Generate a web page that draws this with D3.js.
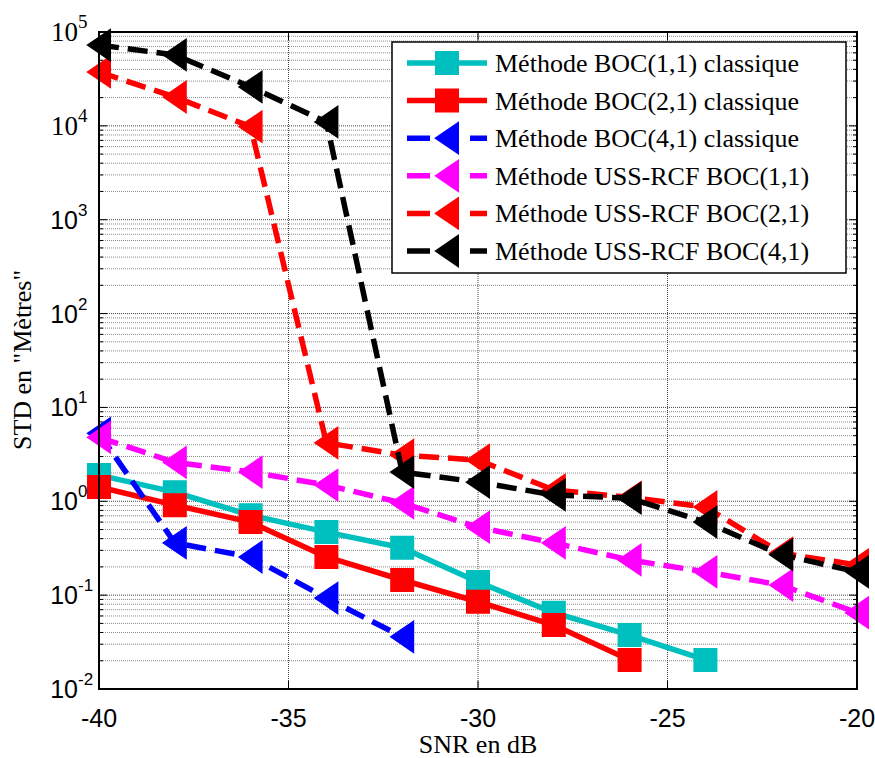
<!DOCTYPE html>
<html><head><meta charset="utf-8">
<script src="https://cdn.jsdelivr.net/npm/d3@7"></script>
<style>body{margin:0;background:#fff}</style>
</head><body>
<svg id="c" width="875" height="758"></svg>
<script>
const snr = [-40,-38,-36,-34,-32,-30,-28,-26,-24,-22,-20];
const boc11 = [1.9,1.25,0.71,0.47,0.32,0.138,0.065,0.0376,0.0204];
const boc21 = [1.42,0.91,0.60,0.255,0.145,0.085,0.048,0.0204];
const boc41 = [5.3,0.36,0.255,0.093,0.036];
const uss11 = [4.8,2.6,2.05,1.49,0.96,0.53,0.36,0.237,0.177,0.128,0.065];
const uss21 = [37500,20300,9800,4.2,3.1,2.75,1.32,1.1,0.87,0.28,0.21];
const uss41 = [72600,57000,26000,11000,2.05,1.6,1.17,1.08,0.60,0.27,0.177];
const xTicks = [-40,-35,-30,-25,-20];
const yExp = [-2,-1,0,1,2,3,4,5];
const names = ["Méthode BOC(1,1) classique","Méthode BOC(2,1) classique","Méthode BOC(4,1) classique",
  "Méthode USS-RCF BOC(1,1)","Méthode USS-RCF BOC(2,1)","Méthode USS-RCF BOC(4,1)"];
const colors = ["#00bfbf","#ff0000","#0000ff","#ff00ff","#ff0000","#000000"];
const markers = ["square","square","tri","tri","tri","tri"];
const dashed = [false,false,true,true,true,true];
const seriesVals = [boc11,boc21,boc41,uss11,uss21,uss41];

const L=99,R=857,T=32,B=689;
const svg=d3.select("#c");
const x=d3.scaleLinear().domain([-40,-20]).range([L,R]);
const y=d3.scaleLog().domain([1e-2,1e5]).range([B,T]);
const SERIF="'Liberation Serif','Times New Roman',serif";
const SANS="'Liberation Sans',Arial,sans-serif";

// grid
const g=svg.append("g");
const minor=[];
for(let e=-2;e<5;e++) for(let k=2;k<=9;k++) minor.push(k*Math.pow(10,e));
g.selectAll(".mn").data(minor).enter().append("line")
 .attr("x1",L).attr("x2",R).attr("y1",d=>y(d)).attr("y2",d=>y(d))
 .attr("stroke","#8a8a8a").attr("stroke-width",1).attr("stroke-dasharray","1,1");
g.selectAll(".mj").data(yExp.slice(1,-1)).enter().append("line")
 .attr("x1",L).attr("x2",R).attr("y1",d=>y(Math.pow(10,d))).attr("y2",d=>y(Math.pow(10,d)))
 .attr("stroke","#444").attr("stroke-width",1).attr("stroke-dasharray","1,1");
g.selectAll(".xg").data(xTicks.slice(1,-1)).enter().append("line")
 .attr("x1",d=>x(d)).attr("x2",d=>x(d)).attr("y1",T).attr("y2",B)
 .attr("stroke","#444").attr("stroke-width",1).attr("stroke-dasharray","1,1");

// ticks (inside, both sides)
const tk=svg.append("g").attr("stroke","#000").attr("stroke-width",1);
xTicks.forEach(v=>{tk.append("line").attr("x1",x(v)).attr("x2",x(v)).attr("y1",B).attr("y2",B-8);
 tk.append("line").attr("x1",x(v)).attr("x2",x(v)).attr("y1",T).attr("y2",T+8);});
yExp.forEach(e=>{const yy=y(Math.pow(10,e));tk.append("line").attr("x1",L).attr("x2",L+8).attr("y1",yy).attr("y2",yy);
 tk.append("line").attr("x1",R).attr("x2",R-8).attr("y1",yy).attr("y2",yy);});
minor.forEach(v=>{const yy=y(v);tk.append("line").attr("x1",L).attr("x2",L+4).attr("y1",yy).attr("y2",yy);
 tk.append("line").attr("x1",R).attr("x2",R-4).attr("y1",yy).attr("y2",yy);});

// series
function markerPath(type){
 if(type==="square") return "M-11,-11H11V11H-11Z";
 return "M-11,0L11,-15L11,15Z";
}
seriesVals.forEach((vals,i)=>{
 const pts=vals.map((v,j)=>[snr[j],v]);
 const line=d3.line().x(d=>x(d[0])).y(d=>y(d[1]));
 svg.append("path").attr("d",line(pts)).attr("fill","none").attr("stroke",colors[i])
  .attr("stroke-width",5.5).attr("stroke-dasharray",dashed[i]?"20,9":null).attr("stroke-linejoin","round");
 svg.selectAll(null).data(pts).enter().append("path")
  .attr("transform",d=>`translate(${x(d[0])},${y(d[1])})`)
  .attr("d",markerPath(markers[i])).attr("fill",colors[i]).attr("stroke",colors[i]).attr("stroke-width",2);
});

// box
svg.append("rect").attr("x",L).attr("y",T).attr("width",R-L).attr("height",B-T)
 .attr("fill","none").attr("stroke","#000").attr("stroke-width",2);

// x tick labels
svg.selectAll(".xl").data(xTicks).enter().append("text")
 .attr("x",d=>x(d)).attr("y",727).attr("text-anchor","middle")
 .attr("font-family",SANS).attr("font-size",25).text(d=>d);
// y tick labels
yExp.forEach(e=>{
 const serif=e>=4;
 svg.append("text").attr("x",78).attr("y",y(Math.pow(10,e))+9).attr("text-anchor","end")
  .attr("font-family",serif?SERIF:SANS).attr("font-size",serif?27:25).text("10");
 svg.append("text").attr("x",78).attr("y",y(Math.pow(10,e))-4)
  .attr("font-family",serif?SERIF:SANS).attr("font-size",serif?19:17).text(String(e));
});

// axis titles
svg.append("text").attr("x",478).attr("y",753).attr("text-anchor","middle")
 .attr("font-family",SERIF).attr("font-size",26).text("SNR en dB");
svg.append("text").attr("transform","translate(31,360) rotate(-90)").attr("text-anchor","middle")
 .attr("font-family",SERIF).attr("font-size",26).text('STD en "Mètres"');

// legend
const lg=svg.append("g");
lg.append("rect").attr("x",392).attr("y",42).attr("width",454).attr("height",231)
 .attr("fill","#fff").attr("stroke","#000").attr("stroke-width",1.5);
names.forEach((n,i)=>{
 const yy=63+i*37.6;
 lg.append("line").attr("x1",407).attr("x2",487).attr("y1",yy).attr("y2",yy).attr("stroke",colors[i])
  .attr("stroke-width",5.5).attr("stroke-dasharray",dashed[i]?"23,40,20":null);
 lg.append("path").attr("transform",`translate(447,${yy})`).attr("d",markerPath(markers[i]))
  .attr("fill",colors[i]).attr("stroke",colors[i]).attr("stroke-width",2);
 lg.append("text").attr("x",495).attr("y",yy+9).attr("font-family",SERIF)
  .attr("font-size",26).text(n);
});
</script>
</body></html>
